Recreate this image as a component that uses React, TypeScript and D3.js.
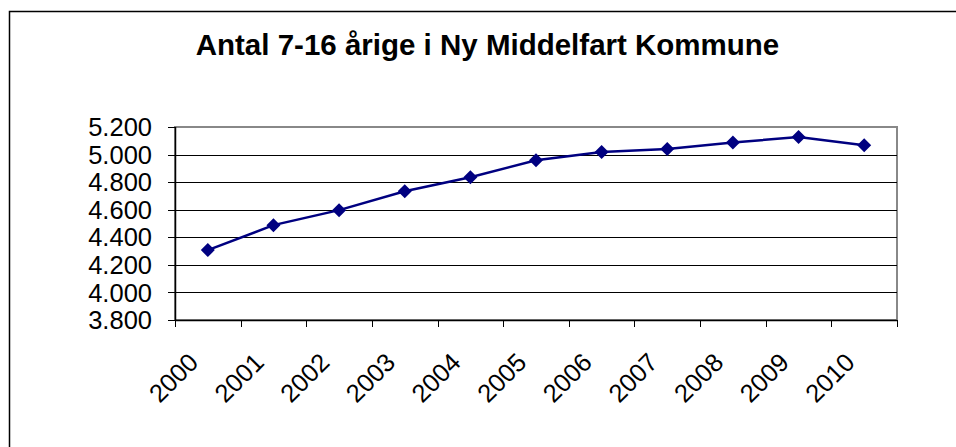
import * as d3 from 'd3';

const years = ['2000', '2001', '2002', '2003', '2004', '2005', '2006', '2007', '2008', '2009', '2010'];
const children = [4307, 4488, 4597, 4734, 4836, 4959, 5019, 5041, 5087, 5128, 5067];
const yTicks = [3800, 4000, 4200, 4400, 4600, 4800, 5000, 5200];

const W = 956, H = 447;
const plot = { left: 175, right: 897, top: 127, bottom: 320 };

const da = d3.formatLocale({ decimal: ',', thousands: '.', grouping: [3], currency: ['', ' kr'] });
const fmt = da.format(',d');

const x = d3.scaleBand().domain(years).range([plot.left, plot.right]);
const y = d3.scaleLinear().domain([3800, 5200]).range([plot.bottom, plot.top]);

const line = d3.line<number>()
  .x((_, i) => x(years[i])! + x.bandwidth() / 2)
  .y(d => y(d));

const diamond = d3.symbol().type(d3.symbolDiamond2).size(125)();

export default function App() {
  const font = 'Arial, "Liberation Sans", sans-serif';
  return (
    <svg width={W} height={H} style={{ position: 'absolute', left: 0, top: 0, background: '#fff' }}>
      {/* outer chart frame, runs off the picture on right and bottom */}
      <rect x={9.5} y={11.5} width={W + 20} height={H + 20} fill="#fff" stroke="#000" strokeWidth={1.5} />

      <text x={487.5} y={55} textAnchor="middle" fontFamily={font} fontWeight="bold" fontSize={29.5}>
        Antal 7-16 årige i Ny Middelfart Kommune
      </text>

      {/* plot frame */}
      <rect x={plot.left} y={plot.top} width={plot.right - plot.left} height={plot.bottom - plot.top}
        fill="none" stroke="#888" strokeWidth={2} />

      {/* gridlines + y ticks */}
      {yTicks.map(t => (
        <g key={t}>
          {t !== 5200 && t !== 3800 && (
            <line x1={plot.left} x2={plot.right} y1={Math.round(y(t)) + 0.5} y2={Math.round(y(t)) + 0.5} stroke="#000" />
          )}
          <line x1={plot.left - 7} x2={plot.left} y1={Math.round(y(t)) + 0.5} y2={Math.round(y(t)) + 0.5} stroke="#000" />
          <text x={152} y={y(t)} dy="0.36em" textAnchor="end" fontFamily={font} fontSize={25.5}>{fmt(t)}</text>
        </g>
      ))}

      {/* axes */}
      <line x1={plot.left + 0.5} x2={plot.left + 0.5} y1={plot.top} y2={plot.bottom} stroke="#000" strokeWidth={1.5} />
      <line x1={plot.left} x2={plot.right} y1={plot.bottom + 0.5} y2={plot.bottom + 0.5} stroke="#000" strokeWidth={1.5} />

      {/* x ticks */}
      {[...years.map(c => x(c)!), plot.right].map((px, i) => (
        <line key={i} x1={Math.round(px) + 0.5} x2={Math.round(px) + 0.5} y1={plot.bottom} y2={plot.bottom + 7} stroke="#000" />
      ))}

      {years.map(c => {
        const cx = x(c)! + x.bandwidth() / 2;
        return (
          <text key={c} transform={`translate(${cx - 8},${plot.bottom + 44}) rotate(-45)`}
            textAnchor="end" fontFamily={font} fontSize={25.5}>{c}</text>
        );
      })}

      <path d={line(children)!} fill="none" stroke="#000080" strokeWidth={2.5} />
      {children.map((v, i) => (
        <path key={i} d={diamond!} transform={`translate(${x(years[i])! + x.bandwidth() / 2},${y(v)})`} fill="#000080" />
      ))}
    </svg>
  );
}
